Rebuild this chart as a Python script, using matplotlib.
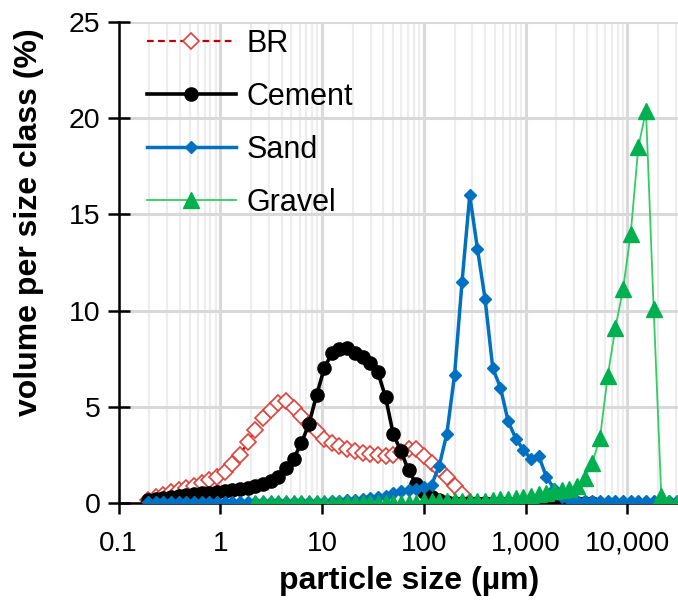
import numpy as np
import matplotlib
matplotlib.use('Agg')
import matplotlib.pyplot as plt
from matplotlib.ticker import LogLocator, FixedLocator, FixedFormatter, NullFormatter

plt.rcParams['font.family'] = ['Liberation Sans', 'DejaVu Sans']

# size classes (um)
sizes = [0.195, 0.232, 0.276, 0.328, 0.39, 0.464, 0.552, 0.656, 0.78, 0.928,
         1.10, 1.31, 1.56, 1.86, 2.21, 2.62, 3.12, 3.71, 4.41, 5.25,
         6.24, 7.42, 8.82, 10.5, 12.5, 14.8, 17.6, 21.0, 25.0, 29.7,
         35.3, 42.0, 49.9, 59.4, 70.6, 84.0, 99.8, 119, 141, 168,
         200, 237, 282, 336, 399, 475, 565, 672, 799, 950,
         1130, 1343, 1597, 1900, 2259, 2687, 3195, 3799, 4518, 5373,
         6390, 7599, 9036, 10746, 12780, 15198, 18073, 21492, 25559, 30395]

nan = None
br = [0.15, 0.3, 0.4, 0.55, 0.7, 0.8, 0.9, 1.05, 1.2, 1.35,
      1.6, 2.05, 2.5, 3.15, 3.8, 4.4, 4.85, 5.2, 5.3, 4.95,
      4.5, 4.1, 3.75, 3.35, 3.1, 2.95, 2.8, 2.7, 2.6, 2.55,
      2.5, 2.45, 2.5, 2.65, 2.8, 2.8, 2.45, 2.1, 1.75, 1.35,
      0.9, 0.45, 0.0] + [nan] * 27

cement = [0.15, 0.2, 0.25, 0.3, 0.35, 0.4, 0.45, 0.5, 0.52, 0.55,
          0.6, 0.65, 0.72, 0.8, 0.9, 1.0, 1.15, 1.35, 1.8, 2.3,
          3.1, 4.1, 5.6, 7.0, 7.8, 8.0, 8.05, 7.8, 7.6, 7.3,
          6.8, 5.5, 3.6, 2.7, 1.7, 1.0, 0.55, 0.3, 0.15, 0.05] + [0.0] * 19 + [nan] * 11

sand = [0.03] * 24 + [0.1, 0.12, 0.15, 0.18, 0.22, 0.26, 0.3, 0.35, 0.5, 0.6,
                      0.7, 0.75, 0.85, 0.95, 1.9, 3.6, 6.65, 11.5, 16.0, 13.2,
                      10.6, 7.0, 6.0, 4.25, 3.35, 2.75, 2.3, 2.45, 1.35, 0.75,
                      0.3, 0.15] + [0.1] * 14

gravel = [nan] * 14 + [0.0] * 22 + [0.1] * 9 + [0.15, 0.2, 0.2, 0.25, 0.3, 0.35, 0.45, 0.5, 0.6, 0.65,
                                                0.75, 0.9, 1.3, 2.1, 3.4, 6.6, 9.1, 11.1, 14.0, 18.5,
                                                20.4, 10.1, 0.35, 0.0, 0.0]

xticks = [0.1, 1, 10, 100, 1000, 10000, 100000]
xticklabels = ['0.1', '1', '10', '100', '1,000', '10,000', '']
yticks = [0, 5, 10, 15, 20, 25]

x = np.array(sizes, dtype=float)

fig = plt.figure(figsize=(6.78, 6.01), dpi=100)
ax = fig.add_axes([118.5 / 678, 98 / 601, 610.8 / 678, 481 / 601])

ax.plot(x, np.array(br, dtype=float), color='#C00000', ls=(0, (3, 2)), lw=1.6,
        marker='D', ms=8, mfc='white', mec='#E0403A', mew=1.2, label='BR', zorder=3)
ax.plot(x, np.array(cement, dtype=float), color='black', lw=2.6,
        marker='o', ms=9.5, label='Cement', zorder=4)
ax.plot(x, np.array(sand, dtype=float), color='#0070C0', lw=2.5,
        marker='D', ms=6.5, label='Sand', zorder=5)
ax.plot(x, np.array(gravel, dtype=float), color='#33CC66', lw=1.3,
        marker='^', ms=11.5, mfc='#00B050', mec='#00B050', label='Gravel', zorder=6)

ax.set_xscale('log')
ax.set_xlim(0.1, 100000)
ax.set_ylim(0, 25)
ax.xaxis.set_major_locator(FixedLocator(xticks))
ax.xaxis.set_major_formatter(FixedFormatter(xticklabels))
ax.xaxis.set_minor_locator(LogLocator(base=10, subs=np.arange(2, 10)))
ax.xaxis.set_minor_formatter(NullFormatter())
ax.set_yticks(yticks)

ax.grid(True, which='major', color='#D9D9D9', lw=2.2, zorder=0)
ax.grid(True, which='minor', axis='x', color='#EDEDED', lw=1.6, zorder=0)
ax.set_axisbelow(True)

for s in ['top', 'right']:
    ax.spines[s].set_visible(False)
for s in ['left', 'bottom']:
    ax.spines[s].set_linewidth(1.8)

ax.tick_params(axis='x', which='major', direction='out', length=8, width=1.8, labelsize=20, pad=12)
ax.tick_params(axis='x', which='minor', length=0)
ax.tick_params(axis='y', direction='inout', length=16, width=1.8, labelsize=20.5, pad=5)

ax.set_xlabel('particle size (µm)', fontsize=23, fontweight='bold')
ax.set_ylabel('volume per size class (%)', fontsize=23, fontweight='bold')
ax.xaxis.set_label_coords((409 - 118.5) / 610.8, -63 / 481)
ax.yaxis.set_label_coords(-74 / 610.8, (503 - 222) / 481)

leg = ax.legend(loc='upper left', bbox_to_anchor=(147 / 678, 1 - 29 / 601), bbox_transform=fig.transFigure,
                frameon=False, fontsize=22, handlelength=2.9, handletextpad=0.35,
                labelspacing=0.75, borderpad=0, borderaxespad=0)

fig.savefig('out.png', dpi=100)
